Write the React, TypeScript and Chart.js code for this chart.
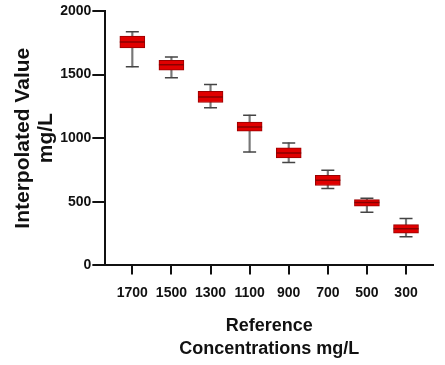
import React, { useEffect, useRef } from "react";
import { Chart, registerables } from "chart.js";

Chart.register(...registerables);

const categories = ["1700", "1500", "1300", "1100", "900", "700", "500", "300"];
const whiskerMin = [1561, 1475, 1239, 892, 809, 604, 417, 226];
const quartile1 = [1709, 1535, 1281, 1055, 845, 628, 465, 254];
const medians = [1756, 1577, 1323, 1089, 884, 669, 494, 289];
const quartile3 = [1803, 1612, 1368, 1126, 924, 709, 517, 320];
const whiskerMax = [1837, 1638, 1423, 1181, 963, 748, 528, 368];
const yTicks = [0, 500, 1000, 1500, 2000];

export default function App() {
  const ref = useRef<HTMLCanvasElement | null>(null);

  useEffect(() => {
    document.body.style.margin = "0";
    const canvas = ref.current;
    if (!canvas) return;
    const font = "'Liberation Sans', Arial, sans-serif";
    const chart = new Chart(canvas, {
      type: "bar",
      data: {
        datasets: [
          {
            type: "line",
            data: medians.map((m, i) => ({ x: i, y: m })),
            showLine: false,
            pointStyle: "line",
            pointRadius: 12.5,
            pointHoverRadius: 12.5,
            pointBorderColor: "#8a0000",
            pointBorderWidth: 1.5,
            order: 0,
          } as any,
          {
            type: "line",
            data: whiskerMax.map((m, i) => ({ x: i, y: m })),
            showLine: false,
            pointStyle: "line",
            pointRadius: 6.5,
            pointHoverRadius: 6.5,
            pointBorderColor: "#444",
            pointBorderWidth: 1.5,
            order: 1,
          } as any,
          {
            type: "line",
            data: whiskerMin.map((m, i) => ({ x: i, y: m })),
            showLine: false,
            pointStyle: "line",
            pointRadius: 6.5,
            pointHoverRadius: 6.5,
            pointBorderColor: "#444",
            pointBorderWidth: 1.5,
            order: 1,
          } as any,
          {
            type: "bar",
            data: quartile1.map((q, i) => ({ x: i, y: [q, quartile3[i]] })),
            backgroundColor: "#e00000",
            borderColor: "#9a0000",
            borderWidth: 1,
            borderSkipped: false,
            barThickness: 25,
            grouped: false,
            order: 2,
          } as any,
          {
            type: "bar",
            data: whiskerMin.map((w, i) => ({ x: i, y: [w, whiskerMax[i]] })),
            backgroundColor: "#777",
            borderWidth: 0,
            barThickness: 1.5,
            grouped: false,
            order: 3,
          } as any,
        ],
      },
      options: {
        animation: false,
        responsive: false,
        layout: { autoPadding: false, padding: { top: 11, right: 12, left: 12, bottom: 4 } },
        plugins: { legend: { display: false }, tooltip: { enabled: false } },
        scales: {
          x: {
            type: "linear",
            offset: false,
            min: -0.69,
            max: 7.69,
            afterBuildTicks: (axis: any) => {
              axis.ticks = categories.map((_, i) => ({ value: i }));
            },
            ticks: {
              callback: (v: any) => categories[v as number] ?? "",
              color: "#111",
              font: { family: font, size: 14, weight: "bold" },
              padding: 10,
              maxRotation: 0,
              autoSkip: false,
            },
            grid: {
              offset: false,
              drawOnChartArea: false,
              drawTicks: true,
              tickLength: 9,
              color: "#111",
              lineWidth: 2,
            },
            border: { color: "#111", width: 2 },
            title: {
              display: true,
              text: ["Reference", "Concentrations mg/L"],
              color: "#111",
              font: { family: font, size: 18, weight: "bold", lineHeight: 1.3 },
              padding: { top: 3, bottom: 0 },
            },
          },
          y: {
            min: 0,
            max: 2000,
            afterBuildTicks: (axis: any) => {
              axis.ticks = yTicks.map((v) => ({ value: v }));
            },
            ticks: {
              callback: (v: any) => String(v),
              color: "#111",
              font: { family: font, size: 14, weight: "bold", lineHeight: 0.9 },
              padding: 1,
            },
            grid: {
              drawOnChartArea: false,
              drawTicks: true,
              tickLength: 13,
              color: "#111",
              lineWidth: 2,
            },
            border: { color: "#111", width: 2 },
            title: {
              display: true,
              text: ["Interpolated Value", "mg/L"],
              color: "#111",
              font: { family: font, size: 21, weight: "bold", lineHeight: 1.1 },
              padding: { top: 0, bottom: 1 },
            },
          },
        },
      },
    });
    return () => chart.destroy();
  }, []);

  return (
    <div style={{ position: "absolute", left: 0, top: 0, width: 445, height: 365 }}>
      <canvas ref={ref} width={445} height={365} />
    </div>
  );
}
